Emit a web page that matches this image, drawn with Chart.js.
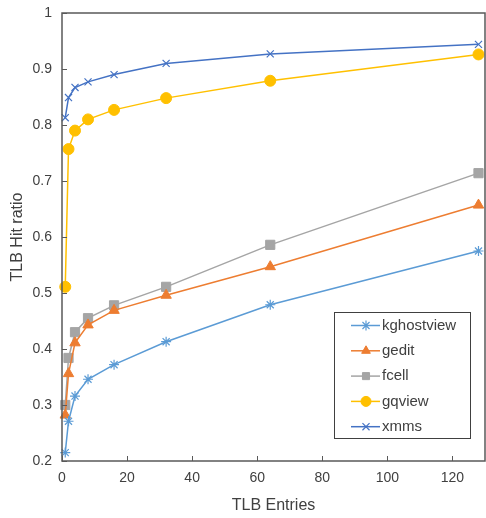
<!DOCTYPE html>
<html>
<head>
<meta charset="utf-8">
<script src="https://cdn.jsdelivr.net/npm/chart.js@4/dist/chart.umd.min.js"></script>
<style>
html,body{margin:0;padding:0;background:#fff;}
#wrap{width:486px;height:518px;}
</style>
</head>
<body>
<div id="wrap"><canvas id="c" width="486" height="518"></canvas></div>
<script>
const entries = [1, 2, 4, 8, 16, 32, 64, 128];
const kghostview = [0.215, 0.271, 0.316, 0.346, 0.372, 0.413, 0.479, 0.575];
const gedit = [0.282, 0.356, 0.411, 0.443, 0.469, 0.496, 0.547, 0.657];
const fcell = [0.300, 0.384, 0.430, 0.455, 0.478, 0.511, 0.586, 0.714];
const gqview = [0.511, 0.757, 0.790, 0.810, 0.827, 0.848, 0.879, 0.926];
const xmms = [0.813, 0.849, 0.867, 0.877, 0.890, 0.910, 0.927, 0.944];
const seriesNames = ['kghostview', 'gedit', 'fcell', 'gqview', 'xmms'];
const xTicks = [0, 20, 40, 60, 80, 100, 120];
const yTicks = [0.2, 0.3, 0.4, 0.5, 0.6, 0.7, 0.8, 0.9, 1];

const colors = ['#5B9BD5', '#ED7D31', '#A5A5A5', '#FFC000', '#4472C4'];
const styles = ['star', 'triangle', 'rect', 'circle', 'crossRot'];
const radii = [5, 6, 6.5, 5.5, 5];
const allSeries = [kghostview, gedit, fcell, gqview, xmms];

const datasets = allSeries.map((vals, i) => ({
  label: seriesNames[i],
  data: entries.map((e, j) => ({x: e, y: vals[j]})),
  borderColor: colors[i],
  backgroundColor: colors[i],
  pointBorderColor: colors[i],
  pointBackgroundColor: colors[i],
  pointStyle: styles[i],
  pointRadius: radii[i],
  pointBorderWidth: (styles[i] === 'star' || styles[i] === 'crossRot') ? 1.2 : 1,
  borderWidth: 1.5,
  tension: 0,
  clip: false
}));

const frameColor = '#595959';
const textColor = '#404040';
const fontFamily = '"Liberation Sans", Arial, sans-serif';

const framePlugin = {
  id: 'frame',
  afterDatasetsDraw(chart) {
    const {ctx, chartArea: a, scales} = chart;
    ctx.save();
    ctx.strokeStyle = frameColor;
    ctx.lineWidth = 1.5;
    ctx.strokeRect(a.left, a.top, a.right - a.left, a.bottom - a.top);
    ctx.lineWidth = 1;
    ctx.beginPath();
    xTicks.forEach(v => {
      const px = Math.round(scales.x.getPixelForValue(v)) + 0.5;
      ctx.moveTo(px, a.bottom);
      ctx.lineTo(px, a.bottom - 5);
    });
    yTicks.forEach(v => {
      const py = Math.round(scales.y.getPixelForValue(v)) + 0.5;
      ctx.moveTo(a.left, py);
      ctx.lineTo(a.left + 5, py);
    });
    ctx.stroke();
    ctx.restore();
  },
  afterDraw(chart) {
    const ctx = chart.ctx;
    const bx = 334, by = 312, bw = 136, bh = 126;
    ctx.save();
    ctx.fillStyle = '#fff';
    ctx.fillRect(bx, by, bw, bh);
    ctx.strokeStyle = '#404040';
    ctx.lineWidth = 1;
    ctx.strokeRect(bx + 0.5, by + 0.5, bw, bh);
    chart.data.datasets.forEach((ds, i) => {
      const y = 325.5 + i * 25.3;
      ctx.strokeStyle = ds.borderColor;
      ctx.lineWidth = 1.5;
      ctx.beginPath();
      ctx.moveTo(351, y);
      ctx.lineTo(380, y);
      ctx.stroke();
      ctx.fillStyle = ds.backgroundColor;
      ctx.strokeStyle = ds.borderColor;
      ctx.lineWidth = ds.pointBorderWidth;
      Chart.helpers.drawPoint(ctx, {pointStyle: ds.pointStyle, radius: Math.min(ds.pointRadius, 5), borderWidth: ds.pointBorderWidth, rotation: 0}, 366, y);
      ctx.fillStyle = textColor;
      ctx.font = '15px ' + fontFamily;
      ctx.textBaseline = 'middle';
      ctx.textAlign = 'left';
      ctx.fillText(ds.label, 382, y);
    });
    ctx.restore();
  }
};

new Chart(document.getElementById('c'), {
  type: 'line',
  data: {datasets},
  options: {
    responsive: false,
    animation: false,
    devicePixelRatio: 1,
    layout: {autoPadding: false, padding: {top: 13, right: 1, left: 0, bottom: 0}},
    plugins: {legend: {display: false}, tooltip: {enabled: false}},
    scales: {
      x: {
        type: 'linear',
        min: 0, max: 130,
        afterBuildTicks: s => { s.ticks = xTicks.map(v => ({value: v})); },
        afterFit: s => { s.height = 57; s.paddingLeft = 0; s.paddingRight = 0; },
        grid: {display: false, drawTicks: false},
        border: {display: false},
        ticks: {color: textColor, font: {family: fontFamily, size: 14}, padding: 9, maxRotation: 0},
        title: {display: true, text: 'TLB Entries', color: textColor, font: {family: fontFamily, size: 16}, padding: {top: 0, bottom: 3}}
      },
      y: {
        type: 'linear',
        min: 0.2, max: 1,
        afterBuildTicks: s => { s.ticks = yTicks.map(v => ({value: v})); },
        afterFit: s => { s.width = 62; s.paddingTop = 0; s.paddingBottom = 0; },
        grid: {display: false, drawTicks: false},
        border: {display: false},
        ticks: {
          color: textColor,
          font: {family: fontFamily, size: 14},
          padding: 10,
          callback: v => (Math.abs(v - 1) < 1e-9 ? '1' : v.toFixed(1))
        },
        title: {display: true, text: 'TLB Hit ratio', color: textColor, font: {family: fontFamily, size: 16}, padding: {top: 7.5, bottom: 0}}
      }
    }
  },
  plugins: [framePlugin]
});
</script>
</body>
</html>
